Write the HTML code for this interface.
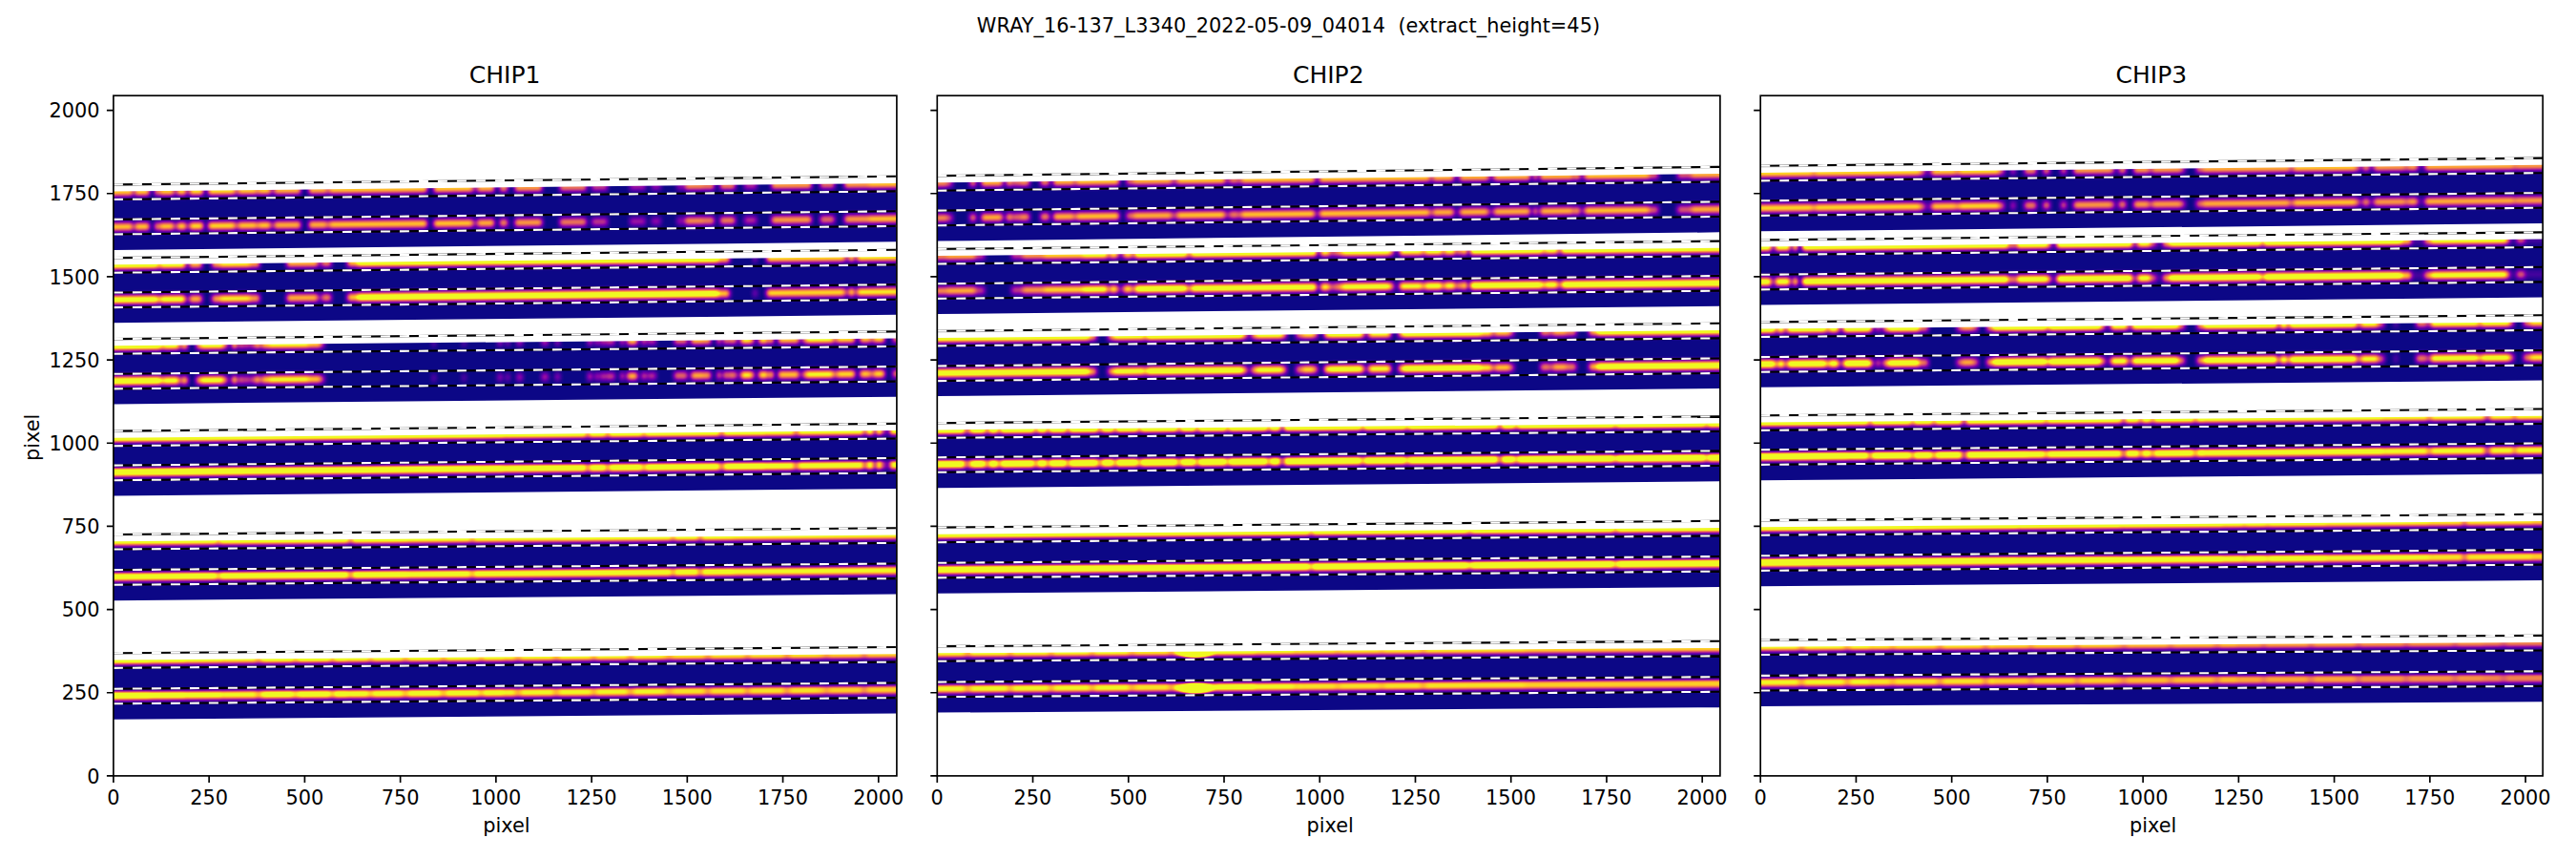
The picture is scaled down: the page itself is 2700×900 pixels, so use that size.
<!DOCTYPE html>
<html lang="en"><head><meta charset="utf-8"><title>WRAY_16-137_L3340_2022-05-09_04014</title>
<style>html,body{margin:0;padding:0;background:#fff;overflow:hidden}svg{display:block}</style>
</head><body>
<svg width="2700" height="900" viewBox="0 0 2700 900" style="display:block">
<defs><linearGradient id="gg" x1="0" y1="0" x2="0" y2="1"><stop offset="0.0000" stop-color="#030303"/><stop offset="0.0250" stop-color="#040404"/><stop offset="0.0500" stop-color="#060606"/><stop offset="0.0750" stop-color="#090909"/><stop offset="0.1000" stop-color="#0e0e0e"/><stop offset="0.1250" stop-color="#131313"/><stop offset="0.1500" stop-color="#1b1b1b"/><stop offset="0.1750" stop-color="#252525"/><stop offset="0.2000" stop-color="#313131"/><stop offset="0.2250" stop-color="#404040"/><stop offset="0.2500" stop-color="#515151"/><stop offset="0.2750" stop-color="#656565"/><stop offset="0.3000" stop-color="#7a7a7a"/><stop offset="0.3250" stop-color="#919191"/><stop offset="0.3500" stop-color="#a9a9a9"/><stop offset="0.3750" stop-color="#bfbfbf"/><stop offset="0.4000" stop-color="#d4d4d4"/><stop offset="0.4250" stop-color="#e6e6e6"/><stop offset="0.4500" stop-color="#f4f4f4"/><stop offset="0.4750" stop-color="#fcfcfc"/><stop offset="0.5000" stop-color="#ffffff"/><stop offset="0.5250" stop-color="#fcfcfc"/><stop offset="0.5500" stop-color="#f4f4f4"/><stop offset="0.5750" stop-color="#e6e6e6"/><stop offset="0.6000" stop-color="#d4d4d4"/><stop offset="0.6250" stop-color="#bfbfbf"/><stop offset="0.6500" stop-color="#a9a9a9"/><stop offset="0.6750" stop-color="#919191"/><stop offset="0.7000" stop-color="#7a7a7a"/><stop offset="0.7250" stop-color="#656565"/><stop offset="0.7500" stop-color="#515151"/><stop offset="0.7750" stop-color="#404040"/><stop offset="0.8000" stop-color="#313131"/><stop offset="0.8250" stop-color="#252525"/><stop offset="0.8500" stop-color="#1b1b1b"/><stop offset="0.8750" stop-color="#131313"/><stop offset="0.9000" stop-color="#0e0e0e"/><stop offset="0.9250" stop-color="#090909"/><stop offset="0.9500" stop-color="#060606"/><stop offset="0.9750" stop-color="#040404"/><stop offset="1.0000" stop-color="#030303"/></linearGradient>
<linearGradient id="ga" x1="0" y1="0" x2="0" y2="1"><stop offset="0.0000" stop-color="#000000"/><stop offset="0.0250" stop-color="#010101"/><stop offset="0.0500" stop-color="#010101"/><stop offset="0.0750" stop-color="#020202"/><stop offset="0.1000" stop-color="#050505"/><stop offset="0.1250" stop-color="#090909"/><stop offset="0.1500" stop-color="#101010"/><stop offset="0.1750" stop-color="#1a1a1a"/><stop offset="0.2000" stop-color="#292929"/><stop offset="0.2250" stop-color="#3e3e3e"/><stop offset="0.2500" stop-color="#595959"/><stop offset="0.2750" stop-color="#787878"/><stop offset="0.3000" stop-color="#9b9b9b"/><stop offset="0.3250" stop-color="#bdbdbd"/><stop offset="0.3500" stop-color="#dcdcdc"/><stop offset="0.3750" stop-color="#f2f2f2"/><stop offset="0.4000" stop-color="#fefefe"/><stop offset="0.4250" stop-color="#ffffff"/><stop offset="0.4500" stop-color="#ffffff"/><stop offset="0.4750" stop-color="#ffffff"/><stop offset="0.5000" stop-color="#ffffff"/><stop offset="0.5250" stop-color="#fbfbfb"/><stop offset="0.5500" stop-color="#f0f0f0"/><stop offset="0.5750" stop-color="#dfdfdf"/><stop offset="0.6000" stop-color="#c9c9c9"/><stop offset="0.6250" stop-color="#b0b0b0"/><stop offset="0.6500" stop-color="#959595"/><stop offset="0.6750" stop-color="#7b7b7b"/><stop offset="0.7000" stop-color="#626262"/><stop offset="0.7250" stop-color="#4d4d4d"/><stop offset="0.7500" stop-color="#3a3a3a"/><stop offset="0.7750" stop-color="#2a2a2a"/><stop offset="0.8000" stop-color="#1e1e1e"/><stop offset="0.8250" stop-color="#151515"/><stop offset="0.8500" stop-color="#0e0e0e"/><stop offset="0.8750" stop-color="#090909"/><stop offset="0.9000" stop-color="#060606"/><stop offset="0.9250" stop-color="#030303"/><stop offset="0.9500" stop-color="#020202"/><stop offset="0.9750" stop-color="#010101"/><stop offset="1.0000" stop-color="#010101"/></linearGradient>
<radialGradient id="rg"><stop offset="0" stop-color="#fff"/><stop offset="0.55" stop-color="#fff"/><stop offset="1" stop-color="#fff" stop-opacity="0"/></radialGradient>
<filter id="pl" filterUnits="userSpaceOnUse" x="-14" y="-54.0" width="849.0" height="92.2" color-interpolation-filters="sRGB"><feGaussianBlur stdDeviation="2.10 0"/><feComponentTransfer><feFuncR type="table" tableValues="0.0504 0.1060 0.1486 0.1862 0.2212 0.2546 0.2871 0.3189 0.3502 0.3872 0.4176 0.4477 0.4773 0.5065 0.5350 0.5627 0.5897 0.6209 0.6459 0.6698 0.6928 0.7149 0.7360 0.7563 0.7758 0.7982 0.8161 0.8334 0.8501 0.8661 0.8814 0.8961 0.9101 0.9233 0.9380 0.9492 0.9594 0.9685 0.9764 0.9830 0.9883 0.9920 0.9943 0.9944 0.9925 0.9886 0.9827 0.9744 0.9640 0.9517 0.9400 0.9400 0.9400 0.9400 0.9400 0.9400 0.9400 0.9400 0.9400 0.9400 0.9400 0.9400 0.9400 0.9400 0.9400 0.9400 0.9400 0.9400 0.9400 0.9400 0.9400 0.9400 0.9400 0.9400 0.9400 0.9400"/><feFuncG type="table" tableValues="0.0298 0.0243 0.0212 0.0188 0.0165 0.0139 0.0109 0.0076 0.0044 0.0014 0.0006 0.0021 0.0070 0.0163 0.0312 0.0515 0.0729 0.0989 0.1209 0.1430 0.1651 0.1873 0.2094 0.2316 0.2537 0.2802 0.3024 0.3246 0.3470 0.3697 0.3925 0.4157 0.4393 0.4633 0.4927 0.5178 0.5434 0.5697 0.5966 0.6241 0.6523 0.6812 0.7167 0.7470 0.7780 0.8096 0.8418 0.8746 0.9080 0.9417 0.9752 0.9752 0.9752 0.9752 0.9752 0.9752 0.9752 0.9752 0.9752 0.9752 0.9752 0.9752 0.9752 0.9752 0.9752 0.9752 0.9752 0.9752 0.9752 0.9752 0.9752 0.9752 0.9752 0.9752 0.9752 0.9752"/><feFuncB type="table" tableValues="0.5280 0.5514 0.5706 0.5872 0.6021 0.6154 0.6273 0.6376 0.6463 0.6542 0.6584 0.6602 0.6595 0.6562 0.6502 0.6415 0.6304 0.6143 0.5989 0.5822 0.5645 0.5463 0.5279 0.5095 0.4912 0.4695 0.4518 0.4344 0.4172 0.4001 0.3832 0.3664 0.3496 0.3328 0.3126 0.2957 0.2787 0.2617 0.2448 0.2279 0.2114 0.1953 0.1772 0.1638 0.1529 0.1454 0.1423 0.1441 0.1494 0.1529 0.1313 0.1313 0.1313 0.1313 0.1313 0.1313 0.1313 0.1313 0.1313 0.1313 0.1313 0.1313 0.1313 0.1313 0.1313 0.1313 0.1313 0.1313 0.1313 0.1313 0.1313 0.1313 0.1313 0.1313 0.1313 0.1313"/></feComponentTransfer></filter>
<clipPath id="band0"><rect x="0" y="-37.10" width="821.00" height="61.30"/></clipPath>
<clipPath id="band1"><rect x="0" y="-36.70" width="821.00" height="60.90"/></clipPath>
<clipPath id="band2"><rect x="0" y="-36.90" width="821.00" height="61.10"/></clipPath>
<clipPath id="band3"><rect x="0" y="-36.60" width="821.00" height="60.80"/></clipPath>
<clipPath id="band4"><rect x="0" y="-37.80" width="821.00" height="62.00"/></clipPath>
<clipPath id="band5"><rect x="0" y="-38.05" width="821.00" height="62.25"/></clipPath>
<clipPath id="ax0"><rect x="118.90" y="100.20" width="821.00" height="712.70"/></clipPath>
<clipPath id="ax1"><rect x="982.30" y="100.20" width="820.60" height="712.70"/></clipPath>
<clipPath id="ax2"><rect x="1845.20" y="100.20" width="820.00" height="712.70"/></clipPath></defs>
<rect width="2700" height="900" fill="#fff"/>
<g clip-path="url(#ax0)">
<g transform="translate(118.90 237.70) skewY(-0.6002)">
<g clip-path="url(#band0)"><g filter="url(#pl)">
<rect x="-14" y="-54.00" width="849.00" height="92.20" fill="#000"/>
<g id="t00" fill="url(#gg)">
<rect x="-12.0" y="-10" width="32.0" height="20" opacity="0.576"/>
<rect x="20.0" y="-10" width="2.5" height="20" opacity="0.094"/>
<rect x="22.5" y="-10" width="15.0" height="20" opacity="0.576"/>
<rect x="44.0" y="-10" width="2.5" height="20" opacity="0.723"/>
<rect x="48.0" y="-10" width="15.0" height="20" opacity="0.576"/>
<rect x="63.0" y="-10" width="4.0" height="20" opacity="0.194"/>
<rect x="67.0" y="-10" width="9.0" height="20" opacity="0.584"/>
<rect x="76.0" y="-10" width="4.0" height="20" opacity="0.139"/>
<rect x="80.0" y="-10" width="14.0" height="20" opacity="0.612"/>
<rect x="99.5" y="-10" width="28.0" height="20" opacity="0.612"/>
<rect x="127.5" y="-10" width="3.5" height="20" opacity="0.274"/>
<rect x="131.0" y="-10" width="19.0" height="20" opacity="0.576"/>
<rect x="150.0" y="-10" width="1.5" height="20" opacity="0.306"/>
<rect x="151.5" y="-10" width="13.0" height="20" opacity="0.576"/>
<rect x="164.5" y="-10" width="4.5" height="20" opacity="0.188"/>
<rect x="169.0" y="-10" width="27.0" height="20" opacity="0.540"/>
<rect x="205.0" y="-10" width="18.5" height="20" opacity="0.540"/>
<rect x="223.5" y="-10" width="3.0" height="20" opacity="0.334"/>
<rect x="226.5" y="-10" width="102.0" height="20" opacity="0.576"/>
<rect x="336.0" y="-10" width="40.5" height="20" opacity="0.576"/>
<rect x="376.5" y="-10" width="5.5" height="20" opacity="0.184"/>
<rect x="382.0" y="-10" width="17.0" height="20" opacity="0.540"/>
<rect x="405.0" y="-10" width="8.0" height="20" opacity="0.458"/>
<rect x="421.0" y="-10" width="28.0" height="20" opacity="0.504"/>
<rect x="468.0" y="-10" width="27.5" height="20" opacity="0.432"/>
<rect x="501.5" y="-10" width="16.0" height="20" opacity="0.288"/>
<rect x="541.5" y="-10" width="16.0" height="20" opacity="0.216"/>
<rect x="564.0" y="-10" width="9.5" height="20" opacity="0.184"/>
<rect x="591.0" y="-10" width="6.5" height="20" opacity="0.205"/>
<rect x="599.0" y="-10" width="19.0" height="20" opacity="0.468"/>
<rect x="618.0" y="-10" width="11.5" height="20" opacity="0.432"/>
<rect x="636.0" y="-10" width="15.5" height="20" opacity="0.432"/>
<rect x="661.5" y="-10" width="12.5" height="20" opacity="0.253"/>
<rect x="690.0" y="-10" width="41.5" height="20" opacity="0.504"/>
<rect x="741.0" y="-10" width="14.5" height="20" opacity="0.396"/>
<rect x="766.5" y="-10" width="25.5" height="20" opacity="0.504"/>
<rect x="792.0" y="-10" width="41.0" height="20" opacity="0.576"/>
</g>
<use href="#t00" y="-36.50"/>
</g></g>
<line x1="0" y1="-43.00" x2="821.00" y2="-44.90" stroke="#c8c8c8" stroke-width="0.8"/>
<line x1="0" y1="-44.30" x2="821.00" y2="-44.30" stroke="#000" stroke-width="2.1"/>
<line x1="0" y1="-44.30" x2="821.00" y2="-44.30" stroke="#fff" stroke-width="2.1" stroke-dasharray="10 10"/>
<line x1="0" y1="-28.70" x2="821.00" y2="-28.70" stroke="#000" stroke-width="2.1"/>
<line x1="0" y1="-28.70" x2="821.00" y2="-28.70" stroke="#fff" stroke-width="2.1" stroke-dasharray="10 10"/>
<line x1="0" y1="-7.80" x2="821.00" y2="-7.80" stroke="#000" stroke-width="2.1"/>
<line x1="0" y1="-7.80" x2="821.00" y2="-7.80" stroke="#fff" stroke-width="2.1" stroke-dasharray="10 10"/>
<line x1="0" y1="7.80" x2="821.00" y2="7.80" stroke="#000" stroke-width="2.1"/>
<line x1="0" y1="7.80" x2="821.00" y2="7.80" stroke="#fff" stroke-width="2.1" stroke-dasharray="10 10"/>
</g>
<g transform="translate(118.90 314.05) skewY(-0.5862)">
<g clip-path="url(#band1)"><g filter="url(#pl)">
<rect x="-14" y="-54.00" width="849.00" height="92.20" fill="#000"/>
<g id="t01" fill="url(#gg)">
<rect x="-12.0" y="-10" width="58.5" height="20" opacity="0.756"/>
<rect x="46.5" y="-10" width="3.0" height="20" opacity="0.514"/>
<rect x="49.5" y="-10" width="25.5" height="20" opacity="0.720"/>
<rect x="75.0" y="-10" width="5.0" height="20" opacity="0.117"/>
<rect x="80.0" y="-10" width="12.5" height="20" opacity="0.541"/>
<rect x="103.5" y="-10" width="8.0" height="20" opacity="0.504"/>
<rect x="111.5" y="-10" width="32.0" height="20" opacity="0.648"/>
<rect x="143.5" y="-10" width="9.5" height="20" opacity="0.504"/>
<rect x="182.0" y="-10" width="32.0" height="20" opacity="0.540"/>
<rect x="214.0" y="-10" width="4.5" height="20" opacity="0.130"/>
<rect x="218.5" y="-10" width="9.5" height="20" opacity="0.437"/>
<rect x="245.5" y="-10" width="10.0" height="20" opacity="0.576"/>
<rect x="255.5" y="-10" width="378.5" height="20" opacity="0.828"/>
<rect x="634.0" y="-10" width="11.5" height="20" opacity="0.576"/>
<rect x="671.0" y="-10" width="3.0" height="20" opacity="0.206"/>
<rect x="685.0" y="-10" width="81.5" height="20" opacity="0.612"/>
<rect x="766.5" y="-10" width="5.0" height="20" opacity="0.247"/>
<rect x="771.5" y="-10" width="4.5" height="20" opacity="0.676"/>
<rect x="776.0" y="-10" width="3.5" height="20" opacity="0.153"/>
<rect x="779.5" y="-10" width="53.5" height="20" opacity="0.648"/>
</g>
<use href="#t01" y="-36.40"/>
</g></g>
<line x1="0" y1="-42.60" x2="821.00" y2="-44.50" stroke="#c8c8c8" stroke-width="0.8"/>
<line x1="0" y1="-43.90" x2="821.00" y2="-43.90" stroke="#000" stroke-width="2.1"/>
<line x1="0" y1="-43.90" x2="821.00" y2="-43.90" stroke="#fff" stroke-width="2.1" stroke-dasharray="10 10"/>
<line x1="0" y1="-28.30" x2="821.00" y2="-28.30" stroke="#000" stroke-width="2.1"/>
<line x1="0" y1="-28.30" x2="821.00" y2="-28.30" stroke="#fff" stroke-width="2.1" stroke-dasharray="10 10"/>
<line x1="0" y1="-7.50" x2="821.00" y2="-7.50" stroke="#000" stroke-width="2.1"/>
<line x1="0" y1="-7.50" x2="821.00" y2="-7.50" stroke="#fff" stroke-width="2.1" stroke-dasharray="10 10"/>
<line x1="0" y1="8.10" x2="821.00" y2="8.10" stroke="#000" stroke-width="2.1"/>
<line x1="0" y1="8.10" x2="821.00" y2="8.10" stroke="#fff" stroke-width="2.1" stroke-dasharray="10 10"/>
</g>
<g transform="translate(118.90 399.20) skewY(-0.5408)">
<g clip-path="url(#band2)"><g filter="url(#pl)">
<rect x="-14" y="-54.00" width="849.00" height="92.20" fill="#000"/>
<g id="t02" fill="url(#gg)">
<rect x="-12.0" y="-10" width="61.5" height="20" opacity="0.828"/>
<rect x="49.5" y="-10" width="3.0" height="20" opacity="0.583"/>
<rect x="52.5" y="-10" width="16.0" height="20" opacity="0.720"/>
<rect x="68.5" y="-10" width="3.5" height="20" opacity="0.238"/>
<rect x="72.0" y="-10" width="5.5" height="20" opacity="0.582"/>
<rect x="87.0" y="-10" width="4.5" height="20" opacity="0.504"/>
<rect x="91.5" y="-10" width="23.5" height="20" opacity="0.720"/>
<rect x="115.0" y="-10" width="4.0" height="20" opacity="0.432"/>
<rect x="119.0" y="-10" width="6.0" height="20" opacity="0.092"/>
<rect x="125.0" y="-10" width="4.0" height="20" opacity="0.653"/>
<rect x="129.0" y="-10" width="3.5" height="20" opacity="0.094"/>
<rect x="132.5" y="-10" width="3.0" height="20" opacity="0.559"/>
<rect x="135.5" y="-10" width="2.5" height="20" opacity="0.039"/>
<rect x="138.0" y="-10" width="3.0" height="20" opacity="0.490"/>
<rect x="141.0" y="-10" width="2.5" height="20" opacity="0.039"/>
<rect x="143.5" y="-10" width="2.5" height="20" opacity="0.449"/>
<rect x="146.0" y="-10" width="2.5" height="20" opacity="0.199"/>
<rect x="148.5" y="-10" width="4.5" height="20" opacity="0.597"/>
<rect x="153.0" y="-10" width="2.5" height="20" opacity="0.219"/>
<rect x="155.5" y="-10" width="7.0" height="20" opacity="0.576"/>
<rect x="162.5" y="-10" width="41.5" height="20" opacity="0.684"/>
<rect x="204.0" y="-10" width="13.0" height="20" opacity="0.576"/>
<rect x="217.0" y="-10" width="4.0" height="20" opacity="0.288"/>
<rect x="334.0" y="-10" width="3.5" height="20" opacity="0.121"/>
<rect x="365.5" y="-10" width="4.0" height="20" opacity="0.109"/>
<rect x="403.0" y="-10" width="4.5" height="20" opacity="0.201"/>
<rect x="411.5" y="-10" width="3.5" height="20" opacity="0.181"/>
<rect x="423.0" y="-10" width="5.5" height="20" opacity="0.222"/>
<rect x="449.0" y="-10" width="6.5" height="20" opacity="0.246"/>
<rect x="463.5" y="-10" width="4.0" height="20" opacity="0.218"/>
<rect x="497.5" y="-10" width="4.0" height="20" opacity="0.328"/>
<rect x="505.5" y="-10" width="2.5" height="20" opacity="0.402"/>
<rect x="510.5" y="-10" width="4.0" height="20" opacity="0.328"/>
<rect x="515.5" y="-10" width="10.0" height="20" opacity="0.293"/>
<rect x="532.0" y="-10" width="2.5" height="20" opacity="0.482"/>
<rect x="538.5" y="-10" width="10.5" height="20" opacity="0.547"/>
<rect x="553.5" y="-10" width="5.0" height="20" opacity="0.329"/>
<rect x="560.0" y="-10" width="8.5" height="20" opacity="0.263"/>
<rect x="588.0" y="-10" width="13.5" height="20" opacity="0.397"/>
<rect x="605.5" y="-10" width="12.5" height="20" opacity="0.540"/>
<rect x="618.0" y="-10" width="8.0" height="20" opacity="0.504"/>
<rect x="633.5" y="-10" width="2.5" height="20" opacity="0.642"/>
<rect x="639.5" y="-10" width="4.0" height="20" opacity="0.492"/>
<rect x="644.5" y="-10" width="5.5" height="20" opacity="0.449"/>
<rect x="650.0" y="-10" width="4.0" height="20" opacity="0.360"/>
<rect x="657.5" y="-10" width="12.0" height="20" opacity="0.650"/>
<rect x="669.5" y="-10" width="3.0" height="20" opacity="0.288"/>
<rect x="676.5" y="-10" width="9.5" height="20" opacity="0.627"/>
<rect x="687.5" y="-10" width="4.0" height="20" opacity="0.655"/>
<rect x="697.0" y="-10" width="21.5" height="20" opacity="0.576"/>
<rect x="722.0" y="-10" width="1.5" height="20" opacity="0.720"/>
<rect x="725.0" y="-10" width="29.0" height="20" opacity="0.684"/>
<rect x="754.0" y="-10" width="4.5" height="20" opacity="0.361"/>
<rect x="758.5" y="-10" width="18.5" height="20" opacity="0.612"/>
<rect x="782.5" y="-10" width="11.0" height="20" opacity="0.577"/>
<rect x="793.5" y="-10" width="3.5" height="20" opacity="0.334"/>
<rect x="797.0" y="-10" width="11.0" height="20" opacity="0.614"/>
<rect x="817.0" y="-10" width="16.0" height="20" opacity="0.432"/>
</g>
<use href="#t02" y="-36.70"/>
</g></g>
<line x1="0" y1="-42.80" x2="821.00" y2="-44.70" stroke="#c8c8c8" stroke-width="0.8"/>
<line x1="0" y1="-44.10" x2="821.00" y2="-44.10" stroke="#000" stroke-width="2.1"/>
<line x1="0" y1="-44.10" x2="821.00" y2="-44.10" stroke="#fff" stroke-width="2.1" stroke-dasharray="10 10"/>
<line x1="0" y1="-28.50" x2="821.00" y2="-28.50" stroke="#000" stroke-width="2.1"/>
<line x1="0" y1="-28.50" x2="821.00" y2="-28.50" stroke="#fff" stroke-width="2.1" stroke-dasharray="10 10"/>
<line x1="0" y1="-7.40" x2="821.00" y2="-7.40" stroke="#000" stroke-width="2.1"/>
<line x1="0" y1="-7.40" x2="821.00" y2="-7.40" stroke="#fff" stroke-width="2.1" stroke-dasharray="10 10"/>
<line x1="0" y1="8.20" x2="821.00" y2="8.20" stroke="#000" stroke-width="2.1"/>
<line x1="0" y1="8.20" x2="821.00" y2="8.20" stroke="#fff" stroke-width="2.1" stroke-dasharray="10 10"/>
</g>
<g transform="translate(118.90 495.40) skewY(-0.5374)">
<g clip-path="url(#band3)"><g filter="url(#pl)">
<rect x="-14" y="-54.00" width="849.00" height="92.20" fill="#000"/>
<g id="t03" fill="url(#ga)">
<rect x="-12.0" y="-10" width="149.0" height="20" opacity="0.800"/>
<rect x="137.0" y="-10" width="273.5" height="20" opacity="0.767"/>
<rect x="410.5" y="-10" width="85.0" height="20" opacity="0.733"/>
<rect x="495.5" y="-10" width="3.5" height="20" opacity="0.397"/>
<rect x="499.0" y="-10" width="17.5" height="20" opacity="0.733"/>
<rect x="516.5" y="-10" width="3.0" height="20" opacity="0.416"/>
<rect x="519.5" y="-10" width="35.0" height="20" opacity="0.733"/>
<rect x="554.5" y="-10" width="3.5" height="20" opacity="0.509"/>
<rect x="558.0" y="-10" width="77.5" height="20" opacity="0.733"/>
<rect x="635.5" y="-10" width="4.0" height="20" opacity="0.379"/>
<rect x="639.5" y="-10" width="45.0" height="20" opacity="0.733"/>
<rect x="684.5" y="-10" width="29.0" height="20" opacity="0.700"/>
<rect x="713.5" y="-10" width="4.0" height="20" opacity="0.397"/>
<rect x="717.5" y="-10" width="69.0" height="20" opacity="0.700"/>
<rect x="786.5" y="-10" width="2.5" height="20" opacity="0.105"/>
<rect x="789.0" y="-10" width="8.0" height="20" opacity="0.716"/>
<rect x="797.0" y="-10" width="3.0" height="20" opacity="0.000"/>
<rect x="800.0" y="-10" width="5.0" height="20" opacity="0.802"/>
<rect x="805.0" y="-10" width="2.5" height="20" opacity="0.000"/>
<rect x="807.5" y="-10" width="1.0" height="20" opacity="1.000"/>
<rect x="808.5" y="-10" width="5.5" height="20" opacity="0.041"/>
<rect x="814.0" y="-10" width="19.0" height="20" opacity="0.700"/>
</g>
<use href="#t03" y="-36.00"/>
</g></g>
<line x1="0" y1="-42.50" x2="821.00" y2="-44.40" stroke="#c8c8c8" stroke-width="0.8"/>
<line x1="0" y1="-43.80" x2="821.00" y2="-43.80" stroke="#000" stroke-width="2.1"/>
<line x1="0" y1="-43.80" x2="821.00" y2="-43.80" stroke="#fff" stroke-width="2.1" stroke-dasharray="10 10"/>
<line x1="0" y1="-28.20" x2="821.00" y2="-28.20" stroke="#000" stroke-width="2.1"/>
<line x1="0" y1="-28.20" x2="821.00" y2="-28.20" stroke="#fff" stroke-width="2.1" stroke-dasharray="10 10"/>
<line x1="0" y1="-7.80" x2="821.00" y2="-7.80" stroke="#000" stroke-width="2.1"/>
<line x1="0" y1="-7.80" x2="821.00" y2="-7.80" stroke="#fff" stroke-width="2.1" stroke-dasharray="10 10"/>
<line x1="0" y1="7.80" x2="821.00" y2="7.80" stroke="#000" stroke-width="2.1"/>
<line x1="0" y1="7.80" x2="821.00" y2="7.80" stroke="#fff" stroke-width="2.1" stroke-dasharray="10 10"/>
</g>
<g transform="translate(118.90 604.95) skewY(-0.4641)">
<g clip-path="url(#band4)"><g filter="url(#pl)">
<rect x="-14" y="-54.00" width="849.00" height="92.20" fill="#000"/>
<g id="t04" fill="url(#ga)">
<rect x="-12.0" y="-10" width="120.0" height="20" opacity="0.733"/>
<rect x="108.0" y="-10" width="4.0" height="20" opacity="0.531"/>
<rect x="112.0" y="-10" width="134.5" height="20" opacity="0.733"/>
<rect x="246.5" y="-10" width="4.0" height="20" opacity="0.430"/>
<rect x="250.5" y="-10" width="57.5" height="20" opacity="0.733"/>
<rect x="308.0" y="-10" width="66.5" height="20" opacity="0.700"/>
<rect x="374.5" y="-10" width="3.0" height="20" opacity="0.510"/>
<rect x="377.5" y="-10" width="207.5" height="20" opacity="0.700"/>
<rect x="585.0" y="-10" width="3.0" height="20" opacity="0.446"/>
<rect x="588.0" y="-10" width="25.5" height="20" opacity="0.700"/>
<rect x="613.5" y="-10" width="3.0" height="20" opacity="0.383"/>
<rect x="616.5" y="-10" width="33.5" height="20" opacity="0.700"/>
<rect x="650.0" y="-10" width="183.0" height="20" opacity="0.667"/>
</g>
<use href="#t04" y="-37.20"/>
</g></g>
<line x1="0" y1="-43.70" x2="821.00" y2="-45.60" stroke="#c8c8c8" stroke-width="0.8"/>
<line x1="0" y1="-45.00" x2="821.00" y2="-45.00" stroke="#000" stroke-width="2.1"/>
<line x1="0" y1="-45.00" x2="821.00" y2="-45.00" stroke="#fff" stroke-width="2.1" stroke-dasharray="10 10"/>
<line x1="0" y1="-29.40" x2="821.00" y2="-29.40" stroke="#000" stroke-width="2.1"/>
<line x1="0" y1="-29.40" x2="821.00" y2="-29.40" stroke="#fff" stroke-width="2.1" stroke-dasharray="10 10"/>
<line x1="0" y1="-7.80" x2="821.00" y2="-7.80" stroke="#000" stroke-width="2.1"/>
<line x1="0" y1="-7.80" x2="821.00" y2="-7.80" stroke="#fff" stroke-width="2.1" stroke-dasharray="10 10"/>
<line x1="0" y1="7.80" x2="821.00" y2="7.80" stroke="#000" stroke-width="2.1"/>
<line x1="0" y1="7.80" x2="821.00" y2="7.80" stroke="#fff" stroke-width="2.1" stroke-dasharray="10 10"/>
</g>
<g transform="translate(118.90 729.50) skewY(-0.4327)">
<g clip-path="url(#band5)"><g filter="url(#pl)">
<rect x="-14" y="-54.00" width="849.00" height="92.20" fill="#000"/>
<g id="t05" fill="url(#ga)">
<rect x="-12.0" y="-10" width="50.0" height="20" opacity="0.800"/>
<rect x="38.0" y="-10" width="38.5" height="20" opacity="0.733"/>
<rect x="76.5" y="-10" width="38.0" height="20" opacity="0.700"/>
<rect x="114.5" y="-10" width="36.0" height="20" opacity="0.667"/>
<rect x="150.5" y="-10" width="2.5" height="20" opacity="0.485"/>
<rect x="153.0" y="-10" width="2.5" height="20" opacity="0.633"/>
<rect x="155.5" y="-10" width="33.0" height="20" opacity="0.733"/>
<rect x="188.5" y="-10" width="5.5" height="20" opacity="0.610"/>
<rect x="194.0" y="-10" width="33.0" height="20" opacity="0.733"/>
<rect x="227.0" y="-10" width="5.0" height="20" opacity="0.559"/>
<rect x="232.0" y="-10" width="14.5" height="20" opacity="0.733"/>
<rect x="246.5" y="-10" width="20.5" height="20" opacity="0.700"/>
<rect x="267.0" y="-10" width="5.0" height="20" opacity="0.569"/>
<rect x="272.0" y="-10" width="31.5" height="20" opacity="0.700"/>
<rect x="303.5" y="-10" width="5.0" height="20" opacity="0.569"/>
<rect x="308.5" y="-10" width="35.0" height="20" opacity="0.700"/>
<rect x="343.5" y="-10" width="5.0" height="20" opacity="0.569"/>
<rect x="348.5" y="-10" width="34.5" height="20" opacity="0.700"/>
<rect x="383.0" y="-10" width="5.0" height="20" opacity="0.569"/>
<rect x="388.0" y="-10" width="22.5" height="20" opacity="0.700"/>
<rect x="410.5" y="-10" width="11.0" height="20" opacity="0.667"/>
<rect x="421.5" y="-10" width="5.0" height="20" opacity="0.536"/>
<rect x="426.5" y="-10" width="34.5" height="20" opacity="0.667"/>
<rect x="461.0" y="-10" width="5.5" height="20" opacity="0.543"/>
<rect x="466.5" y="-10" width="34.5" height="20" opacity="0.667"/>
<rect x="501.0" y="-10" width="5.0" height="20" opacity="0.536"/>
<rect x="506.0" y="-10" width="33.5" height="20" opacity="0.667"/>
<rect x="539.5" y="-10" width="5.0" height="20" opacity="0.536"/>
<rect x="544.5" y="-10" width="30.5" height="20" opacity="0.667"/>
<rect x="575.0" y="-10" width="5.5" height="20" opacity="0.633"/>
<rect x="580.5" y="-10" width="5.5" height="20" opacity="0.551"/>
<rect x="586.0" y="-10" width="34.5" height="20" opacity="0.633"/>
<rect x="620.5" y="-10" width="5.0" height="20" opacity="0.503"/>
<rect x="625.5" y="-10" width="36.5" height="20" opacity="0.633"/>
<rect x="662.0" y="-10" width="5.0" height="20" opacity="0.503"/>
<rect x="667.0" y="-10" width="36.5" height="20" opacity="0.633"/>
<rect x="703.5" y="-10" width="5.0" height="20" opacity="0.503"/>
<rect x="708.5" y="-10" width="30.5" height="20" opacity="0.633"/>
<rect x="739.0" y="-10" width="6.0" height="20" opacity="0.600"/>
<rect x="745.0" y="-10" width="5.0" height="20" opacity="0.513"/>
<rect x="750.0" y="-10" width="34.5" height="20" opacity="0.600"/>
<rect x="784.5" y="-10" width="5.5" height="20" opacity="0.476"/>
<rect x="790.0" y="-10" width="43.0" height="20" opacity="0.600"/>
</g>
<use href="#t05" y="-37.45"/>
</g></g>
<line x1="0" y1="-43.95" x2="821.00" y2="-45.85" stroke="#c8c8c8" stroke-width="0.8"/>
<line x1="0" y1="-45.25" x2="821.00" y2="-45.25" stroke="#000" stroke-width="2.1"/>
<line x1="0" y1="-45.25" x2="821.00" y2="-45.25" stroke="#fff" stroke-width="2.1" stroke-dasharray="10 10"/>
<line x1="0" y1="-29.65" x2="821.00" y2="-29.65" stroke="#000" stroke-width="2.1"/>
<line x1="0" y1="-29.65" x2="821.00" y2="-29.65" stroke="#fff" stroke-width="2.1" stroke-dasharray="10 10"/>
<line x1="0" y1="-7.80" x2="821.00" y2="-7.80" stroke="#000" stroke-width="2.1"/>
<line x1="0" y1="-7.80" x2="821.00" y2="-7.80" stroke="#fff" stroke-width="2.1" stroke-dasharray="10 10"/>
<line x1="0" y1="7.80" x2="821.00" y2="7.80" stroke="#000" stroke-width="2.1"/>
<line x1="0" y1="7.80" x2="821.00" y2="7.80" stroke="#fff" stroke-width="2.1" stroke-dasharray="10 10"/>
</g>
</g>
<rect x="118.90" y="100.20" width="821.00" height="712.70" fill="none" stroke="#000" stroke-width="1.67"/>
<path d="M118.90 812.90v7.0M118.90 812.90h-7.0M219.14 812.90v7.0M118.90 725.74h-7.0M319.38 812.90v7.0M118.90 638.57h-7.0M419.61 812.90v7.0M118.90 551.41h-7.0M519.85 812.90v7.0M118.90 464.25h-7.0M620.09 812.90v7.0M118.90 377.09h-7.0M720.32 812.90v7.0M118.90 289.92h-7.0M820.56 812.90v7.0M118.90 202.76h-7.0M920.80 812.90v7.0M118.90 115.60h-7.0" stroke="#000" stroke-width="1.67" fill="none"/>
<g font-family='"DejaVu Sans", "Liberation Sans", sans-serif' font-size="20.83" fill="#000" text-anchor="middle">
<text x="118.80" y="843.4">0</text>
<text x="219.04" y="843.4">250</text>
<text x="319.27" y="843.4">500</text>
<text x="419.51" y="843.4">750</text>
<text x="519.75" y="843.4">1000</text>
<text x="619.99" y="843.4">1250</text>
<text x="720.22" y="843.4">1500</text>
<text x="820.46" y="843.4">1750</text>
<text x="920.70" y="843.4">2000</text>
<text x="530.90" y="872.0">pixel</text>
</g>
<text x="529.10" y="86.9" font-family='"DejaVu Sans", "Liberation Sans", sans-serif' font-size="25" fill="#000" text-anchor="middle">CHIP1</text>
<g clip-path="url(#ax1)">
<g transform="translate(982.30 228.40) skewY(-0.6458)">
<g clip-path="url(#band0)"><g filter="url(#pl)">
<rect x="-14" y="-54.00" width="849.00" height="92.20" fill="#000"/>
<g id="t10" fill="url(#gg)">
<rect x="-12.0" y="-10" width="23.0" height="20" opacity="0.468"/>
<rect x="11.0" y="-10" width="5.0" height="20" opacity="0.288"/>
<rect x="34.5" y="-10" width="6.0" height="20" opacity="0.425"/>
<rect x="46.5" y="-10" width="22.0" height="20" opacity="0.540"/>
<rect x="72.5" y="-10" width="6.5" height="20" opacity="0.492"/>
<rect x="80.0" y="-10" width="5.5" height="20" opacity="0.432"/>
<rect x="86.0" y="-10" width="10.5" height="20" opacity="0.468"/>
<rect x="108.5" y="-10" width="9.0" height="20" opacity="0.446"/>
<rect x="122.0" y="-10" width="21.5" height="20" opacity="0.540"/>
<rect x="143.5" y="-10" width="2.5" height="20" opacity="0.299"/>
<rect x="146.0" y="-10" width="44.5" height="20" opacity="0.576"/>
<rect x="198.5" y="-10" width="7.5" height="20" opacity="0.396"/>
<rect x="206.0" y="-10" width="39.5" height="20" opacity="0.540"/>
<rect x="245.5" y="-10" width="6.0" height="20" opacity="0.285"/>
<rect x="251.5" y="-10" width="50.0" height="20" opacity="0.576"/>
<rect x="301.5" y="-10" width="5.0" height="20" opacity="0.197"/>
<rect x="306.5" y="-10" width="8.5" height="20" opacity="0.435"/>
<rect x="315.0" y="-10" width="4.0" height="20" opacity="0.323"/>
<rect x="319.0" y="-10" width="76.5" height="20" opacity="0.576"/>
<rect x="395.5" y="-10" width="5.5" height="20" opacity="0.131"/>
<rect x="401.0" y="-10" width="115.0" height="20" opacity="0.576"/>
<rect x="516.0" y="-10" width="4.0" height="20" opacity="0.267"/>
<rect x="520.0" y="-10" width="21.0" height="20" opacity="0.540"/>
<rect x="541.0" y="-10" width="7.0" height="20" opacity="0.102"/>
<rect x="548.0" y="-10" width="29.5" height="20" opacity="0.540"/>
<rect x="577.5" y="-10" width="6.5" height="20" opacity="0.171"/>
<rect x="584.0" y="-10" width="37.5" height="20" opacity="0.540"/>
<rect x="625.5" y="-10" width="3.0" height="20" opacity="0.617"/>
<rect x="632.0" y="-10" width="34.0" height="20" opacity="0.540"/>
<rect x="666.0" y="-10" width="2.5" height="20" opacity="0.343"/>
<rect x="668.5" y="-10" width="4.5" height="20" opacity="0.533"/>
<rect x="673.0" y="-10" width="6.0" height="20" opacity="0.164"/>
<rect x="679.0" y="-10" width="67.0" height="20" opacity="0.576"/>
<rect x="746.0" y="-10" width="9.5" height="20" opacity="0.360"/>
<rect x="776.0" y="-10" width="14.5" height="20" opacity="0.360"/>
<rect x="790.5" y="-10" width="42.5" height="20" opacity="0.540"/>
</g>
<use href="#t10" y="-36.50"/>
</g></g>
<line x1="0" y1="-43.00" x2="821.00" y2="-44.90" stroke="#c8c8c8" stroke-width="0.8"/>
<line x1="0" y1="-44.30" x2="821.00" y2="-44.30" stroke="#000" stroke-width="2.1"/>
<line x1="0" y1="-44.30" x2="821.00" y2="-44.30" stroke="#fff" stroke-width="2.1" stroke-dasharray="10 10"/>
<line x1="0" y1="-28.70" x2="821.00" y2="-28.70" stroke="#000" stroke-width="2.1"/>
<line x1="0" y1="-28.70" x2="821.00" y2="-28.70" stroke="#fff" stroke-width="2.1" stroke-dasharray="10 10"/>
<line x1="0" y1="-7.80" x2="821.00" y2="-7.80" stroke="#000" stroke-width="2.1"/>
<line x1="0" y1="-7.80" x2="821.00" y2="-7.80" stroke="#fff" stroke-width="2.1" stroke-dasharray="10 10"/>
<line x1="0" y1="7.80" x2="821.00" y2="7.80" stroke="#000" stroke-width="2.1"/>
<line x1="0" y1="7.80" x2="821.00" y2="7.80" stroke="#fff" stroke-width="2.1" stroke-dasharray="10 10"/>
</g>
<g transform="translate(982.30 304.80) skewY(-0.5760)">
<g clip-path="url(#band1)"><g filter="url(#pl)">
<rect x="-14" y="-54.00" width="849.00" height="92.20" fill="#000"/>
<g id="t11" fill="url(#gg)">
<rect x="-12.0" y="-10" width="21.5" height="20" opacity="0.468"/>
<rect x="9.5" y="-10" width="30.5" height="20" opacity="0.540"/>
<rect x="40.0" y="-10" width="9.5" height="20" opacity="0.288"/>
<rect x="78.0" y="-10" width="11.5" height="20" opacity="0.288"/>
<rect x="89.5" y="-10" width="22.0" height="20" opacity="0.504"/>
<rect x="111.5" y="-10" width="41.5" height="20" opacity="0.612"/>
<rect x="153.0" y="-10" width="25.5" height="20" opacity="0.720"/>
<rect x="178.5" y="-10" width="2.5" height="20" opacity="0.210"/>
<rect x="181.0" y="-10" width="8.0" height="20" opacity="0.623"/>
<rect x="189.0" y="-10" width="6.5" height="20" opacity="0.161"/>
<rect x="195.5" y="-10" width="8.5" height="20" opacity="0.620"/>
<rect x="204.0" y="-10" width="3.5" height="20" opacity="0.310"/>
<rect x="207.5" y="-10" width="54.0" height="20" opacity="0.792"/>
<rect x="261.5" y="-10" width="5.0" height="20" opacity="0.427"/>
<rect x="266.5" y="-10" width="131.0" height="20" opacity="0.756"/>
<rect x="397.5" y="-10" width="4.5" height="20" opacity="0.045"/>
<rect x="402.0" y="-10" width="9.0" height="20" opacity="0.658"/>
<rect x="411.0" y="-10" width="4.5" height="20" opacity="0.331"/>
<rect x="415.5" y="-10" width="5.0" height="20" opacity="0.432"/>
<rect x="420.5" y="-10" width="4.5" height="20" opacity="0.540"/>
<rect x="425.0" y="-10" width="49.5" height="20" opacity="0.720"/>
<rect x="474.5" y="-10" width="3.5" height="20" opacity="0.504"/>
<rect x="478.0" y="-10" width="7.0" height="20" opacity="0.066"/>
<rect x="485.0" y="-10" width="23.0" height="20" opacity="0.684"/>
<rect x="508.0" y="-10" width="3.5" height="20" opacity="0.442"/>
<rect x="511.5" y="-10" width="17.5" height="20" opacity="0.720"/>
<rect x="529.0" y="-10" width="3.0" height="20" opacity="0.341"/>
<rect x="532.0" y="-10" width="11.0" height="20" opacity="0.686"/>
<rect x="543.0" y="-10" width="3.5" height="20" opacity="0.213"/>
<rect x="546.5" y="-10" width="2.5" height="20" opacity="0.842"/>
<rect x="549.0" y="-10" width="2.0" height="20" opacity="0.000"/>
<rect x="551.0" y="-10" width="3.5" height="20" opacity="0.868"/>
<rect x="554.5" y="-10" width="4.5" height="20" opacity="0.095"/>
<rect x="559.0" y="-10" width="75.0" height="20" opacity="0.792"/>
<rect x="634.0" y="-10" width="3.5" height="20" opacity="0.539"/>
<rect x="637.5" y="-10" width="12.5" height="20" opacity="0.720"/>
<rect x="650.0" y="-10" width="5.0" height="20" opacity="0.344"/>
<rect x="655.0" y="-10" width="178.0" height="20" opacity="0.800"/>
</g>
<use href="#t11" y="-36.40"/>
</g></g>
<line x1="0" y1="-42.60" x2="821.00" y2="-44.50" stroke="#c8c8c8" stroke-width="0.8"/>
<line x1="0" y1="-43.90" x2="821.00" y2="-43.90" stroke="#000" stroke-width="2.1"/>
<line x1="0" y1="-43.90" x2="821.00" y2="-43.90" stroke="#fff" stroke-width="2.1" stroke-dasharray="10 10"/>
<line x1="0" y1="-28.30" x2="821.00" y2="-28.30" stroke="#000" stroke-width="2.1"/>
<line x1="0" y1="-28.30" x2="821.00" y2="-28.30" stroke="#fff" stroke-width="2.1" stroke-dasharray="10 10"/>
<line x1="0" y1="-7.50" x2="821.00" y2="-7.50" stroke="#000" stroke-width="2.1"/>
<line x1="0" y1="-7.50" x2="821.00" y2="-7.50" stroke="#fff" stroke-width="2.1" stroke-dasharray="10 10"/>
<line x1="0" y1="8.10" x2="821.00" y2="8.10" stroke="#000" stroke-width="2.1"/>
<line x1="0" y1="8.10" x2="821.00" y2="8.10" stroke="#fff" stroke-width="2.1" stroke-dasharray="10 10"/>
</g>
<g transform="translate(982.30 390.90) skewY(-0.5620)">
<g clip-path="url(#band2)"><g filter="url(#pl)">
<rect x="-14" y="-54.00" width="849.00" height="92.20" fill="#000"/>
<g id="t12" fill="url(#gg)">
<rect x="-12.0" y="-10" width="171.5" height="20" opacity="0.800"/>
<rect x="159.5" y="-10" width="7.0" height="20" opacity="0.504"/>
<rect x="179.5" y="-10" width="5.5" height="20" opacity="0.504"/>
<rect x="185.0" y="-10" width="32.0" height="20" opacity="0.720"/>
<rect x="217.0" y="-10" width="3.0" height="20" opacity="0.514"/>
<rect x="220.0" y="-10" width="100.5" height="20" opacity="0.800"/>
<rect x="320.5" y="-10" width="4.0" height="20" opacity="0.504"/>
<rect x="324.5" y="-10" width="5.5" height="20" opacity="0.104"/>
<rect x="330.0" y="-10" width="5.0" height="20" opacity="0.540"/>
<rect x="335.0" y="-10" width="27.0" height="20" opacity="0.720"/>
<rect x="362.0" y="-10" width="4.0" height="20" opacity="0.432"/>
<rect x="376.5" y="-10" width="6.5" height="20" opacity="0.432"/>
<rect x="383.0" y="-10" width="12.5" height="20" opacity="0.613"/>
<rect x="395.5" y="-10" width="3.5" height="20" opacity="0.360"/>
<rect x="406.0" y="-10" width="5.0" height="20" opacity="0.648"/>
<rect x="411.0" y="-10" width="34.0" height="20" opacity="0.756"/>
<rect x="445.0" y="-10" width="2.5" height="20" opacity="0.504"/>
<rect x="447.5" y="-10" width="5.0" height="20" opacity="0.128"/>
<rect x="452.5" y="-10" width="21.5" height="20" opacity="0.684"/>
<rect x="474.0" y="-10" width="2.0" height="20" opacity="0.432"/>
<rect x="483.5" y="-10" width="4.0" height="20" opacity="0.504"/>
<rect x="487.5" y="-10" width="83.0" height="20" opacity="0.792"/>
<rect x="570.5" y="-10" width="11.0" height="20" opacity="0.648"/>
<rect x="581.5" y="-10" width="3.0" height="20" opacity="0.302"/>
<rect x="584.5" y="-10" width="16.0" height="20" opacity="0.576"/>
<rect x="600.5" y="-10" width="4.0" height="20" opacity="0.324"/>
<rect x="632.5" y="-10" width="9.5" height="20" opacity="0.434"/>
<rect x="642.0" y="-10" width="3.5" height="20" opacity="0.311"/>
<rect x="645.5" y="-10" width="14.0" height="20" opacity="0.540"/>
<rect x="659.5" y="-10" width="10.0" height="20" opacity="0.432"/>
<rect x="683.5" y="-10" width="8.0" height="20" opacity="0.540"/>
<rect x="691.5" y="-10" width="141.5" height="20" opacity="0.828"/>
</g>
<use href="#t12" y="-36.70"/>
</g></g>
<line x1="0" y1="-42.80" x2="821.00" y2="-44.70" stroke="#c8c8c8" stroke-width="0.8"/>
<line x1="0" y1="-44.10" x2="821.00" y2="-44.10" stroke="#000" stroke-width="2.1"/>
<line x1="0" y1="-44.10" x2="821.00" y2="-44.10" stroke="#fff" stroke-width="2.1" stroke-dasharray="10 10"/>
<line x1="0" y1="-28.50" x2="821.00" y2="-28.50" stroke="#000" stroke-width="2.1"/>
<line x1="0" y1="-28.50" x2="821.00" y2="-28.50" stroke="#fff" stroke-width="2.1" stroke-dasharray="10 10"/>
<line x1="0" y1="-7.40" x2="821.00" y2="-7.40" stroke="#000" stroke-width="2.1"/>
<line x1="0" y1="-7.40" x2="821.00" y2="-7.40" stroke="#fff" stroke-width="2.1" stroke-dasharray="10 10"/>
<line x1="0" y1="8.20" x2="821.00" y2="8.20" stroke="#000" stroke-width="2.1"/>
<line x1="0" y1="8.20" x2="821.00" y2="8.20" stroke="#fff" stroke-width="2.1" stroke-dasharray="10 10"/>
</g>
<g transform="translate(982.30 487.00) skewY(-0.4783)">
<g clip-path="url(#band3)"><g filter="url(#pl)">
<rect x="-14" y="-54.00" width="849.00" height="92.20" fill="#000"/>
<g id="t13" fill="url(#ga)">
<rect x="-12.0" y="-10" width="41.0" height="20" opacity="0.800"/>
<rect x="29.0" y="-10" width="2.5" height="20" opacity="0.056"/>
<rect x="31.5" y="-10" width="1.5" height="20" opacity="1.000"/>
<rect x="33.0" y="-10" width="1.5" height="20" opacity="0.000"/>
<rect x="34.5" y="-10" width="16.0" height="20" opacity="0.800"/>
<rect x="50.5" y="-10" width="4.0" height="20" opacity="0.395"/>
<rect x="54.5" y="-10" width="9.0" height="20" opacity="0.808"/>
<rect x="63.5" y="-10" width="3.5" height="20" opacity="0.408"/>
<rect x="67.0" y="-10" width="34.5" height="20" opacity="0.800"/>
<rect x="101.5" y="-10" width="4.0" height="20" opacity="0.446"/>
<rect x="105.5" y="-10" width="9.0" height="20" opacity="0.808"/>
<rect x="114.5" y="-10" width="3.5" height="20" opacity="0.408"/>
<rect x="118.0" y="-10" width="17.5" height="20" opacity="0.800"/>
<rect x="135.5" y="-10" width="3.0" height="20" opacity="0.356"/>
<rect x="138.5" y="-10" width="30.0" height="20" opacity="0.800"/>
<rect x="168.5" y="-10" width="4.0" height="20" opacity="0.395"/>
<rect x="172.5" y="-10" width="12.5" height="20" opacity="0.801"/>
<rect x="185.0" y="-10" width="3.0" height="20" opacity="0.356"/>
<rect x="188.0" y="-10" width="22.5" height="20" opacity="0.800"/>
<rect x="210.5" y="-10" width="3.0" height="20" opacity="0.419"/>
<rect x="213.5" y="-10" width="38.0" height="20" opacity="0.800"/>
<rect x="251.5" y="-10" width="4.0" height="20" opacity="0.446"/>
<rect x="255.5" y="-10" width="15.5" height="20" opacity="0.800"/>
<rect x="271.0" y="-10" width="3.0" height="20" opacity="0.356"/>
<rect x="274.0" y="-10" width="29.0" height="20" opacity="0.800"/>
<rect x="303.0" y="-10" width="3.0" height="20" opacity="0.419"/>
<rect x="306.0" y="-10" width="40.0" height="20" opacity="0.800"/>
<rect x="346.0" y="-10" width="3.0" height="20" opacity="0.356"/>
<rect x="349.0" y="-10" width="10.5" height="20" opacity="0.803"/>
<rect x="359.5" y="-10" width="4.5" height="20" opacity="0.195"/>
<rect x="364.0" y="-10" width="80.5" height="20" opacity="0.800"/>
<rect x="444.5" y="-10" width="3.5" height="20" opacity="0.464"/>
<rect x="448.0" y="-10" width="43.0" height="20" opacity="0.800"/>
<rect x="491.0" y="-10" width="3.0" height="20" opacity="0.483"/>
<rect x="494.0" y="-10" width="93.5" height="20" opacity="0.800"/>
<rect x="587.5" y="-10" width="4.5" height="20" opacity="0.334"/>
<rect x="592.0" y="-10" width="13.5" height="20" opacity="0.800"/>
<rect x="605.5" y="-10" width="3.0" height="20" opacity="0.483"/>
<rect x="608.5" y="-10" width="100.5" height="20" opacity="0.800"/>
<rect x="709.0" y="-10" width="3.5" height="20" opacity="0.576"/>
<rect x="712.5" y="-10" width="92.5" height="20" opacity="0.800"/>
<rect x="805.0" y="-10" width="3.0" height="20" opacity="0.483"/>
<rect x="808.0" y="-10" width="25.0" height="20" opacity="0.800"/>
</g>
<use href="#t13" y="-36.00"/>
</g></g>
<line x1="0" y1="-42.50" x2="821.00" y2="-44.40" stroke="#c8c8c8" stroke-width="0.8"/>
<line x1="0" y1="-43.80" x2="821.00" y2="-43.80" stroke="#000" stroke-width="2.1"/>
<line x1="0" y1="-43.80" x2="821.00" y2="-43.80" stroke="#fff" stroke-width="2.1" stroke-dasharray="10 10"/>
<line x1="0" y1="-28.20" x2="821.00" y2="-28.20" stroke="#000" stroke-width="2.1"/>
<line x1="0" y1="-28.20" x2="821.00" y2="-28.20" stroke="#fff" stroke-width="2.1" stroke-dasharray="10 10"/>
<line x1="0" y1="-7.80" x2="821.00" y2="-7.80" stroke="#000" stroke-width="2.1"/>
<line x1="0" y1="-7.80" x2="821.00" y2="-7.80" stroke="#fff" stroke-width="2.1" stroke-dasharray="10 10"/>
<line x1="0" y1="7.80" x2="821.00" y2="7.80" stroke="#000" stroke-width="2.1"/>
<line x1="0" y1="7.80" x2="821.00" y2="7.80" stroke="#fff" stroke-width="2.1" stroke-dasharray="10 10"/>
</g>
<g transform="translate(982.30 597.60) skewY(-0.4748)">
<g clip-path="url(#band4)"><g filter="url(#pl)">
<rect x="-14" y="-54.00" width="849.00" height="92.20" fill="#000"/>
<g id="t14" fill="url(#ga)">
<rect x="-12.0" y="-10" width="402.5" height="20" opacity="0.800"/>
<rect x="390.5" y="-10" width="3.0" height="20" opacity="0.483"/>
<rect x="393.5" y="-10" width="162.5" height="20" opacity="0.800"/>
<rect x="556.0" y="-10" width="3.5" height="20" opacity="0.576"/>
<rect x="559.5" y="-10" width="149.5" height="20" opacity="0.800"/>
<rect x="709.0" y="-10" width="3.5" height="20" opacity="0.520"/>
<rect x="712.5" y="-10" width="120.5" height="20" opacity="0.800"/>
</g>
<use href="#t14" y="-37.20"/>
</g></g>
<line x1="0" y1="-43.70" x2="821.00" y2="-45.60" stroke="#c8c8c8" stroke-width="0.8"/>
<line x1="0" y1="-45.00" x2="821.00" y2="-45.00" stroke="#000" stroke-width="2.1"/>
<line x1="0" y1="-45.00" x2="821.00" y2="-45.00" stroke="#fff" stroke-width="2.1" stroke-dasharray="10 10"/>
<line x1="0" y1="-29.40" x2="821.00" y2="-29.40" stroke="#000" stroke-width="2.1"/>
<line x1="0" y1="-29.40" x2="821.00" y2="-29.40" stroke="#fff" stroke-width="2.1" stroke-dasharray="10 10"/>
<line x1="0" y1="-7.80" x2="821.00" y2="-7.80" stroke="#000" stroke-width="2.1"/>
<line x1="0" y1="-7.80" x2="821.00" y2="-7.80" stroke="#fff" stroke-width="2.1" stroke-dasharray="10 10"/>
<line x1="0" y1="7.80" x2="821.00" y2="7.80" stroke="#000" stroke-width="2.1"/>
<line x1="0" y1="7.80" x2="821.00" y2="7.80" stroke="#fff" stroke-width="2.1" stroke-dasharray="10 10"/>
</g>
<g transform="translate(982.30 722.40) skewY(-0.3770)">
<g clip-path="url(#band5)"><g filter="url(#pl)">
<rect x="-14" y="-54.00" width="849.00" height="92.20" fill="#000"/>
<g id="t15" fill="url(#ga)">
<rect x="-12.0" y="-10" width="41.5" height="20" opacity="0.667"/>
<rect x="29.5" y="-10" width="5.0" height="20" opacity="0.536"/>
<rect x="34.5" y="-10" width="39.5" height="20" opacity="0.667"/>
<rect x="74.0" y="-10" width="5.0" height="20" opacity="0.536"/>
<rect x="79.0" y="-10" width="38.0" height="20" opacity="0.667"/>
<rect x="117.0" y="-10" width="5.0" height="20" opacity="0.536"/>
<rect x="122.0" y="-10" width="38.0" height="20" opacity="0.667"/>
<rect x="160.0" y="-10" width="5.0" height="20" opacity="0.536"/>
<rect x="165.0" y="-10" width="36.5" height="20" opacity="0.667"/>
<rect x="201.5" y="-10" width="5.0" height="20" opacity="0.546"/>
<rect x="206.5" y="-10" width="36.5" height="20" opacity="0.633"/>
<rect x="243.0" y="-10" width="5.0" height="20" opacity="0.503"/>
<rect x="248.0" y="-10" width="45.0" height="20" opacity="0.633"/>
<rect x="293.0" y="-10" width="41.5" height="20" opacity="0.733"/>
<rect x="334.5" y="-10" width="39.5" height="20" opacity="0.667"/>
<rect x="374.0" y="-10" width="4.5" height="20" opacity="0.620"/>
<rect x="378.5" y="-10" width="4.0" height="20" opacity="0.684"/>
<rect x="382.5" y="-10" width="36.0" height="20" opacity="0.633"/>
<rect x="418.5" y="-10" width="4.5" height="20" opacity="0.587"/>
<rect x="423.0" y="-10" width="40.0" height="20" opacity="0.633"/>
<rect x="463.0" y="-10" width="4.5" height="20" opacity="0.587"/>
<rect x="467.5" y="-10" width="40.0" height="20" opacity="0.633"/>
<rect x="507.5" y="-10" width="4.5" height="20" opacity="0.540"/>
<rect x="512.0" y="-10" width="104.0" height="20" opacity="0.633"/>
<rect x="616.0" y="-10" width="217.0" height="20" opacity="0.600"/>
<ellipse cx="270.9" cy="0.5" rx="23.0" ry="6.5" fill="url(#rg)"/>
</g>
<use href="#t15" y="-37.45"/>
</g></g>
<line x1="0" y1="-43.95" x2="821.00" y2="-45.85" stroke="#c8c8c8" stroke-width="0.8"/>
<line x1="0" y1="-45.25" x2="821.00" y2="-45.25" stroke="#000" stroke-width="2.1"/>
<line x1="0" y1="-45.25" x2="821.00" y2="-45.25" stroke="#fff" stroke-width="2.1" stroke-dasharray="10 10"/>
<line x1="0" y1="-29.65" x2="821.00" y2="-29.65" stroke="#000" stroke-width="2.1"/>
<line x1="0" y1="-29.65" x2="821.00" y2="-29.65" stroke="#fff" stroke-width="2.1" stroke-dasharray="10 10"/>
<line x1="0" y1="-7.80" x2="821.00" y2="-7.80" stroke="#000" stroke-width="2.1"/>
<line x1="0" y1="-7.80" x2="821.00" y2="-7.80" stroke="#fff" stroke-width="2.1" stroke-dasharray="10 10"/>
<line x1="0" y1="7.80" x2="821.00" y2="7.80" stroke="#000" stroke-width="2.1"/>
<line x1="0" y1="7.80" x2="821.00" y2="7.80" stroke="#fff" stroke-width="2.1" stroke-dasharray="10 10"/>
</g>
</g>
<rect x="982.30" y="100.20" width="820.60" height="712.70" fill="none" stroke="#000" stroke-width="1.67"/>
<path d="M982.30 812.90v7.0M982.30 812.90h-7.0M1082.54 812.90v7.0M982.30 725.74h-7.0M1182.77 812.90v7.0M982.30 638.57h-7.0M1283.01 812.90v7.0M982.30 551.41h-7.0M1383.25 812.90v7.0M982.30 464.25h-7.0M1483.49 812.90v7.0M982.30 377.09h-7.0M1583.72 812.90v7.0M982.30 289.92h-7.0M1683.96 812.90v7.0M982.30 202.76h-7.0M1784.20 812.90v7.0M982.30 115.60h-7.0" stroke="#000" stroke-width="1.67" fill="none"/>
<g font-family='"DejaVu Sans", "Liberation Sans", sans-serif' font-size="20.83" fill="#000" text-anchor="middle">
<text x="982.20" y="843.4">0</text>
<text x="1082.44" y="843.4">250</text>
<text x="1182.67" y="843.4">500</text>
<text x="1282.91" y="843.4">750</text>
<text x="1383.15" y="843.4">1000</text>
<text x="1483.39" y="843.4">1250</text>
<text x="1583.62" y="843.4">1500</text>
<text x="1683.86" y="843.4">1750</text>
<text x="1784.10" y="843.4">2000</text>
<text x="1394.10" y="872.0">pixel</text>
</g>
<text x="1392.30" y="86.9" font-family='"DejaVu Sans", "Liberation Sans", sans-serif' font-size="25" fill="#000" text-anchor="middle">CHIP2</text>
<g clip-path="url(#ax2)">
<g transform="translate(1845.20 218.10) skewY(-0.5729)">
<g clip-path="url(#band0)"><g filter="url(#pl)">
<rect x="-14" y="-54.00" width="849.00" height="92.20" fill="#000"/>
<g id="t20" fill="url(#gg)">
<rect x="-12.0" y="-10" width="66.0" height="20" opacity="0.612"/>
<rect x="54.0" y="-10" width="3.5" height="20" opacity="0.491"/>
<rect x="57.5" y="-10" width="110.0" height="20" opacity="0.612"/>
<rect x="167.5" y="-10" width="4.0" height="20" opacity="0.432"/>
<rect x="171.5" y="-10" width="8.0" height="20" opacity="0.127"/>
<rect x="179.5" y="-10" width="24.5" height="20" opacity="0.576"/>
<rect x="204.0" y="-10" width="5.0" height="20" opacity="0.482"/>
<rect x="209.0" y="-10" width="41.5" height="20" opacity="0.612"/>
<rect x="250.5" y="-10" width="5.0" height="20" opacity="0.360"/>
<rect x="263.0" y="-10" width="3.5" height="20" opacity="0.302"/>
<rect x="277.0" y="-10" width="12.0" height="20" opacity="0.434"/>
<rect x="296.5" y="-10" width="6.5" height="20" opacity="0.410"/>
<rect x="315.0" y="-10" width="5.5" height="20" opacity="0.356"/>
<rect x="328.5" y="-10" width="40.0" height="20" opacity="0.504"/>
<rect x="368.5" y="-10" width="3.0" height="20" opacity="0.288"/>
<rect x="375.5" y="-10" width="7.5" height="20" opacity="0.428"/>
<rect x="391.5" y="-10" width="15.5" height="20" opacity="0.504"/>
<rect x="407.0" y="-10" width="4.0" height="20" opacity="0.286"/>
<rect x="411.0" y="-10" width="30.0" height="20" opacity="0.504"/>
<rect x="441.0" y="-10" width="4.0" height="20" opacity="0.288"/>
<rect x="457.0" y="-10" width="6.5" height="20" opacity="0.396"/>
<rect x="463.5" y="-10" width="91.0" height="20" opacity="0.540"/>
<rect x="554.5" y="-10" width="4.5" height="20" opacity="0.339"/>
<rect x="559.0" y="-10" width="65.5" height="20" opacity="0.576"/>
<rect x="624.5" y="-10" width="3.5" height="20" opacity="0.360"/>
<rect x="628.0" y="-10" width="4.0" height="20" opacity="0.142"/>
<rect x="632.0" y="-10" width="5.5" height="20" opacity="0.483"/>
<rect x="637.5" y="-10" width="6.0" height="20" opacity="0.134"/>
<rect x="643.5" y="-10" width="32.0" height="20" opacity="0.504"/>
<rect x="675.5" y="-10" width="3.5" height="20" opacity="0.383"/>
<rect x="679.0" y="-10" width="9.5" height="20" opacity="0.506"/>
<rect x="688.5" y="-10" width="8.5" height="20" opacity="0.090"/>
<rect x="697.0" y="-10" width="92.0" height="20" opacity="0.540"/>
<rect x="789.0" y="-10" width="3.0" height="20" opacity="0.435"/>
<rect x="792.0" y="-10" width="41.0" height="20" opacity="0.504"/>
</g>
<use href="#t20" y="-36.50"/>
</g></g>
<line x1="0" y1="-43.00" x2="821.00" y2="-44.90" stroke="#c8c8c8" stroke-width="0.8"/>
<line x1="0" y1="-44.30" x2="821.00" y2="-44.30" stroke="#000" stroke-width="2.1"/>
<line x1="0" y1="-44.30" x2="821.00" y2="-44.30" stroke="#fff" stroke-width="2.1" stroke-dasharray="10 10"/>
<line x1="0" y1="-28.70" x2="821.00" y2="-28.70" stroke="#000" stroke-width="2.1"/>
<line x1="0" y1="-28.70" x2="821.00" y2="-28.70" stroke="#fff" stroke-width="2.1" stroke-dasharray="10 10"/>
<line x1="0" y1="-7.80" x2="821.00" y2="-7.80" stroke="#000" stroke-width="2.1"/>
<line x1="0" y1="-7.80" x2="821.00" y2="-7.80" stroke="#fff" stroke-width="2.1" stroke-dasharray="10 10"/>
<line x1="0" y1="7.80" x2="821.00" y2="7.80" stroke="#000" stroke-width="2.1"/>
<line x1="0" y1="7.80" x2="821.00" y2="7.80" stroke="#fff" stroke-width="2.1" stroke-dasharray="10 10"/>
</g>
<g transform="translate(1845.20 295.30) skewY(-0.5625)">
<g clip-path="url(#band1)"><g filter="url(#pl)">
<rect x="-14" y="-54.00" width="849.00" height="92.20" fill="#000"/>
<g id="t21" fill="url(#gg)">
<rect x="-12.0" y="-10" width="23.0" height="20" opacity="0.756"/>
<rect x="11.0" y="-10" width="5.0" height="20" opacity="0.156"/>
<rect x="16.0" y="-10" width="15.0" height="20" opacity="0.720"/>
<rect x="31.0" y="-10" width="3.5" height="20" opacity="0.000"/>
<rect x="34.5" y="-10" width="4.0" height="20" opacity="0.762"/>
<rect x="38.5" y="-10" width="5.5" height="20" opacity="0.000"/>
<rect x="44.0" y="-10" width="216.0" height="20" opacity="0.800"/>
<rect x="260.0" y="-10" width="2.5" height="20" opacity="0.183"/>
<rect x="262.5" y="-10" width="3.0" height="20" opacity="0.634"/>
<rect x="265.5" y="-10" width="3.5" height="20" opacity="0.262"/>
<rect x="269.0" y="-10" width="32.5" height="20" opacity="0.756"/>
<rect x="301.5" y="-10" width="3.0" height="20" opacity="0.432"/>
<rect x="304.5" y="-10" width="6.5" height="20" opacity="0.104"/>
<rect x="311.0" y="-10" width="78.5" height="20" opacity="0.792"/>
<rect x="389.5" y="-10" width="6.0" height="20" opacity="0.210"/>
<rect x="395.5" y="-10" width="13.0" height="20" opacity="0.721"/>
<rect x="408.5" y="-10" width="2.5" height="20" opacity="0.432"/>
<rect x="411.0" y="-10" width="4.5" height="20" opacity="0.288"/>
<rect x="415.5" y="-10" width="6.5" height="20" opacity="0.042"/>
<rect x="422.0" y="-10" width="6.5" height="20" opacity="0.504"/>
<rect x="428.5" y="-10" width="96.5" height="20" opacity="0.792"/>
<rect x="525.0" y="-10" width="3.0" height="20" opacity="0.381"/>
<rect x="528.0" y="-10" width="144.5" height="20" opacity="0.828"/>
<rect x="672.5" y="-10" width="9.5" height="20" opacity="0.576"/>
<rect x="682.0" y="-10" width="14.5" height="20" opacity="0.072"/>
<rect x="696.5" y="-10" width="6.5" height="20" opacity="0.504"/>
<rect x="703.0" y="-10" width="79.5" height="20" opacity="0.720"/>
<rect x="782.5" y="-10" width="3.0" height="20" opacity="0.360"/>
<rect x="785.5" y="-10" width="7.5" height="20" opacity="0.049"/>
<rect x="793.0" y="-10" width="8.0" height="20" opacity="0.377"/>
<rect x="801.0" y="-10" width="32.0" height="20" opacity="0.072"/>
</g>
<use href="#t21" y="-36.40"/>
</g></g>
<line x1="0" y1="-42.60" x2="821.00" y2="-44.50" stroke="#c8c8c8" stroke-width="0.8"/>
<line x1="0" y1="-43.90" x2="821.00" y2="-43.90" stroke="#000" stroke-width="2.1"/>
<line x1="0" y1="-43.90" x2="821.00" y2="-43.90" stroke="#fff" stroke-width="2.1" stroke-dasharray="10 10"/>
<line x1="0" y1="-28.30" x2="821.00" y2="-28.30" stroke="#000" stroke-width="2.1"/>
<line x1="0" y1="-28.30" x2="821.00" y2="-28.30" stroke="#fff" stroke-width="2.1" stroke-dasharray="10 10"/>
<line x1="0" y1="-7.50" x2="821.00" y2="-7.50" stroke="#000" stroke-width="2.1"/>
<line x1="0" y1="-7.50" x2="821.00" y2="-7.50" stroke="#fff" stroke-width="2.1" stroke-dasharray="10 10"/>
<line x1="0" y1="8.10" x2="821.00" y2="8.10" stroke="#000" stroke-width="2.1"/>
<line x1="0" y1="8.10" x2="821.00" y2="8.10" stroke="#fff" stroke-width="2.1" stroke-dasharray="10 10"/>
</g>
<g transform="translate(1845.20 381.50) skewY(-0.4961)">
<g clip-path="url(#band2)"><g filter="url(#pl)">
<rect x="-14" y="-54.00" width="849.00" height="92.20" fill="#000"/>
<g id="t22" fill="url(#gg)">
<rect x="-12.0" y="-10" width="27.0" height="20" opacity="0.828"/>
<rect x="15.0" y="-10" width="4.0" height="20" opacity="0.392"/>
<rect x="19.0" y="-10" width="5.5" height="20" opacity="0.771"/>
<rect x="24.5" y="-10" width="4.0" height="20" opacity="0.283"/>
<rect x="28.5" y="-10" width="40.0" height="20" opacity="0.800"/>
<rect x="68.5" y="-10" width="4.0" height="20" opacity="0.483"/>
<rect x="72.5" y="-10" width="9.0" height="20" opacity="0.762"/>
<rect x="81.5" y="-10" width="6.0" height="20" opacity="0.203"/>
<rect x="87.5" y="-10" width="28.0" height="20" opacity="0.828"/>
<rect x="115.5" y="-10" width="2.5" height="20" opacity="0.360"/>
<rect x="118.0" y="-10" width="4.0" height="20" opacity="0.070"/>
<rect x="122.0" y="-10" width="3.0" height="20" opacity="0.418"/>
<rect x="125.0" y="-10" width="4.0" height="20" opacity="0.070"/>
<rect x="129.0" y="-10" width="5.0" height="20" opacity="0.504"/>
<rect x="134.0" y="-10" width="32.0" height="20" opacity="0.792"/>
<rect x="166.0" y="-10" width="9.5" height="20" opacity="0.432"/>
<rect x="206.0" y="-10" width="4.5" height="20" opacity="0.360"/>
<rect x="210.5" y="-10" width="13.0" height="20" opacity="0.540"/>
<rect x="223.5" y="-10" width="4.5" height="20" opacity="0.360"/>
<rect x="237.5" y="-10" width="6.5" height="20" opacity="0.504"/>
<rect x="244.0" y="-10" width="56.0" height="20" opacity="0.828"/>
<rect x="300.0" y="-10" width="2.5" height="20" opacity="0.426"/>
<rect x="302.5" y="-10" width="53.5" height="20" opacity="0.828"/>
<rect x="356.0" y="-10" width="4.5" height="20" opacity="0.504"/>
<rect x="360.5" y="-10" width="7.0" height="20" opacity="0.106"/>
<rect x="367.5" y="-10" width="17.0" height="20" opacity="0.720"/>
<rect x="384.5" y="-10" width="5.5" height="20" opacity="0.231"/>
<rect x="390.0" y="-10" width="21.0" height="20" opacity="0.756"/>
<rect x="411.0" y="-10" width="27.0" height="20" opacity="0.792"/>
<rect x="438.0" y="-10" width="6.5" height="20" opacity="0.432"/>
<rect x="458.0" y="-10" width="7.0" height="20" opacity="0.504"/>
<rect x="465.0" y="-10" width="76.5" height="20" opacity="0.792"/>
<rect x="541.5" y="-10" width="3.5" height="20" opacity="0.236"/>
<rect x="545.0" y="-10" width="7.0" height="20" opacity="0.743"/>
<rect x="552.0" y="-10" width="3.0" height="20" opacity="0.309"/>
<rect x="555.0" y="-10" width="69.5" height="20" opacity="0.792"/>
<rect x="624.5" y="-10" width="5.0" height="20" opacity="0.355"/>
<rect x="629.5" y="-10" width="17.5" height="20" opacity="0.684"/>
<rect x="647.0" y="-10" width="6.5" height="20" opacity="0.360"/>
<rect x="664.5" y="-10" width="3.0" height="20" opacity="0.137"/>
<rect x="687.5" y="-10" width="10.5" height="20" opacity="0.434"/>
<rect x="698.0" y="-10" width="5.0" height="20" opacity="0.244"/>
<rect x="703.0" y="-10" width="49.0" height="20" opacity="0.720"/>
<rect x="752.0" y="-10" width="4.0" height="20" opacity="0.502"/>
<rect x="756.0" y="-10" width="29.5" height="20" opacity="0.720"/>
<rect x="785.5" y="-10" width="4.0" height="20" opacity="0.360"/>
<rect x="800.0" y="-10" width="6.5" height="20" opacity="0.432"/>
<rect x="806.5" y="-10" width="26.5" height="20" opacity="0.648"/>
</g>
<use href="#t22" y="-36.70"/>
</g></g>
<line x1="0" y1="-42.80" x2="821.00" y2="-44.70" stroke="#c8c8c8" stroke-width="0.8"/>
<line x1="0" y1="-44.10" x2="821.00" y2="-44.10" stroke="#000" stroke-width="2.1"/>
<line x1="0" y1="-44.10" x2="821.00" y2="-44.10" stroke="#fff" stroke-width="2.1" stroke-dasharray="10 10"/>
<line x1="0" y1="-28.50" x2="821.00" y2="-28.50" stroke="#000" stroke-width="2.1"/>
<line x1="0" y1="-28.50" x2="821.00" y2="-28.50" stroke="#fff" stroke-width="2.1" stroke-dasharray="10 10"/>
<line x1="0" y1="-7.40" x2="821.00" y2="-7.40" stroke="#000" stroke-width="2.1"/>
<line x1="0" y1="-7.40" x2="821.00" y2="-7.40" stroke="#fff" stroke-width="2.1" stroke-dasharray="10 10"/>
<line x1="0" y1="8.20" x2="821.00" y2="8.20" stroke="#000" stroke-width="2.1"/>
<line x1="0" y1="8.20" x2="821.00" y2="8.20" stroke="#fff" stroke-width="2.1" stroke-dasharray="10 10"/>
</g>
<g transform="translate(1845.20 479.05) skewY(-0.4751)">
<g clip-path="url(#band3)"><g filter="url(#pl)">
<rect x="-14" y="-54.00" width="849.00" height="92.20" fill="#000"/>
<g id="t23" fill="url(#ga)">
<rect x="-12.0" y="-10" width="105.5" height="20" opacity="0.800"/>
<rect x="93.5" y="-10" width="19.5" height="20" opacity="0.767"/>
<rect x="113.0" y="-10" width="3.5" height="20" opacity="0.375"/>
<rect x="116.5" y="-10" width="41.5" height="20" opacity="0.767"/>
<rect x="158.0" y="-10" width="3.0" height="20" opacity="0.386"/>
<rect x="161.0" y="-10" width="19.0" height="20" opacity="0.767"/>
<rect x="180.0" y="-10" width="3.5" height="20" opacity="0.431"/>
<rect x="183.5" y="-10" width="27.5" height="20" opacity="0.767"/>
<rect x="211.0" y="-10" width="5.0" height="20" opacity="0.245"/>
<rect x="216.0" y="-10" width="64.0" height="20" opacity="0.767"/>
<rect x="280.0" y="-10" width="18.0" height="20" opacity="0.733"/>
<rect x="298.0" y="-10" width="3.0" height="20" opacity="0.479"/>
<rect x="301.0" y="-10" width="77.5" height="20" opacity="0.733"/>
<rect x="378.5" y="-10" width="4.5" height="20" opacity="0.314"/>
<rect x="383.0" y="-10" width="14.0" height="20" opacity="0.734"/>
<rect x="397.0" y="-10" width="3.0" height="20" opacity="0.352"/>
<rect x="400.0" y="-10" width="9.5" height="20" opacity="0.737"/>
<rect x="409.5" y="-10" width="3.0" height="20" opacity="0.416"/>
<rect x="412.5" y="-10" width="41.5" height="20" opacity="0.733"/>
<rect x="454.0" y="-10" width="3.5" height="20" opacity="0.453"/>
<rect x="457.5" y="-10" width="9.0" height="20" opacity="0.734"/>
<rect x="466.5" y="-10" width="187.0" height="20" opacity="0.700"/>
<rect x="653.5" y="-10" width="46.0" height="20" opacity="0.667"/>
<rect x="699.5" y="-10" width="3.5" height="20" opacity="0.443"/>
<rect x="703.0" y="-10" width="56.0" height="20" opacity="0.667"/>
<rect x="759.0" y="-10" width="5.5" height="20" opacity="0.296"/>
<rect x="764.5" y="-10" width="24.5" height="20" opacity="0.667"/>
<rect x="789.0" y="-10" width="3.0" height="20" opacity="0.413"/>
<rect x="792.0" y="-10" width="41.0" height="20" opacity="0.667"/>
</g>
<use href="#t23" y="-36.00"/>
</g></g>
<line x1="0" y1="-42.50" x2="821.00" y2="-44.40" stroke="#c8c8c8" stroke-width="0.8"/>
<line x1="0" y1="-43.80" x2="821.00" y2="-43.80" stroke="#000" stroke-width="2.1"/>
<line x1="0" y1="-43.80" x2="821.00" y2="-43.80" stroke="#fff" stroke-width="2.1" stroke-dasharray="10 10"/>
<line x1="0" y1="-28.20" x2="821.00" y2="-28.20" stroke="#000" stroke-width="2.1"/>
<line x1="0" y1="-28.20" x2="821.00" y2="-28.20" stroke="#fff" stroke-width="2.1" stroke-dasharray="10 10"/>
<line x1="0" y1="-7.80" x2="821.00" y2="-7.80" stroke="#000" stroke-width="2.1"/>
<line x1="0" y1="-7.80" x2="821.00" y2="-7.80" stroke="#fff" stroke-width="2.1" stroke-dasharray="10 10"/>
<line x1="0" y1="7.80" x2="821.00" y2="7.80" stroke="#000" stroke-width="2.1"/>
<line x1="0" y1="7.80" x2="821.00" y2="7.80" stroke="#fff" stroke-width="2.1" stroke-dasharray="10 10"/>
</g>
<g transform="translate(1845.20 590.10) skewY(-0.4402)">
<g clip-path="url(#band4)"><g filter="url(#pl)">
<rect x="-14" y="-54.00" width="849.00" height="92.20" fill="#000"/>
<g id="t24" fill="url(#ga)">
<rect x="-12.0" y="-10" width="66.5" height="20" opacity="0.867"/>
<rect x="54.5" y="-10" width="108.0" height="20" opacity="0.833"/>
<rect x="162.5" y="-10" width="108.0" height="20" opacity="0.800"/>
<rect x="270.5" y="-10" width="108.0" height="20" opacity="0.767"/>
<rect x="378.5" y="-10" width="108.0" height="20" opacity="0.733"/>
<rect x="486.5" y="-10" width="18.5" height="20" opacity="0.700"/>
<rect x="505.0" y="-10" width="3.5" height="20" opacity="0.644"/>
<rect x="508.5" y="-10" width="22.0" height="20" opacity="0.700"/>
<rect x="530.5" y="-10" width="3.5" height="20" opacity="0.644"/>
<rect x="534.0" y="-10" width="60.5" height="20" opacity="0.700"/>
<rect x="594.5" y="-10" width="108.0" height="20" opacity="0.667"/>
<rect x="702.5" y="-10" width="33.5" height="20" opacity="0.633"/>
<rect x="736.0" y="-10" width="3.5" height="20" opacity="0.353"/>
<rect x="739.5" y="-10" width="71.0" height="20" opacity="0.633"/>
<rect x="810.5" y="-10" width="22.5" height="20" opacity="0.600"/>
</g>
<use href="#t24" y="-37.20"/>
</g></g>
<line x1="0" y1="-43.70" x2="821.00" y2="-45.60" stroke="#c8c8c8" stroke-width="0.8"/>
<line x1="0" y1="-45.00" x2="821.00" y2="-45.00" stroke="#000" stroke-width="2.1"/>
<line x1="0" y1="-45.00" x2="821.00" y2="-45.00" stroke="#fff" stroke-width="2.1" stroke-dasharray="10 10"/>
<line x1="0" y1="-29.40" x2="821.00" y2="-29.40" stroke="#000" stroke-width="2.1"/>
<line x1="0" y1="-29.40" x2="821.00" y2="-29.40" stroke="#fff" stroke-width="2.1" stroke-dasharray="10 10"/>
<line x1="0" y1="-7.80" x2="821.00" y2="-7.80" stroke="#000" stroke-width="2.1"/>
<line x1="0" y1="-7.80" x2="821.00" y2="-7.80" stroke="#fff" stroke-width="2.1" stroke-dasharray="10 10"/>
<line x1="0" y1="7.80" x2="821.00" y2="7.80" stroke="#000" stroke-width="2.1"/>
<line x1="0" y1="7.80" x2="821.00" y2="7.80" stroke="#fff" stroke-width="2.1" stroke-dasharray="10 10"/>
</g>
<g transform="translate(1845.20 715.70) skewY(-0.3214)">
<g clip-path="url(#band5)"><g filter="url(#pl)">
<rect x="-14" y="-54.00" width="849.00" height="92.20" fill="#000"/>
<g id="t25" fill="url(#ga)">
<rect x="-12.0" y="-10" width="52.5" height="20" opacity="0.667"/>
<rect x="40.5" y="-10" width="5.0" height="20" opacity="0.536"/>
<rect x="45.5" y="-10" width="43.0" height="20" opacity="0.667"/>
<rect x="88.5" y="-10" width="5.0" height="20" opacity="0.536"/>
<rect x="93.5" y="-10" width="22.0" height="20" opacity="0.667"/>
<rect x="115.5" y="-10" width="20.5" height="20" opacity="0.633"/>
<rect x="136.0" y="-10" width="5.0" height="20" opacity="0.546"/>
<rect x="141.0" y="-10" width="44.5" height="20" opacity="0.633"/>
<rect x="185.5" y="-10" width="5.0" height="20" opacity="0.503"/>
<rect x="190.5" y="-10" width="43.0" height="20" opacity="0.633"/>
<rect x="233.5" y="-10" width="5.0" height="20" opacity="0.503"/>
<rect x="238.5" y="-10" width="5.5" height="20" opacity="0.641"/>
<rect x="244.0" y="-10" width="37.0" height="20" opacity="0.600"/>
<rect x="281.0" y="-10" width="5.0" height="20" opacity="0.513"/>
<rect x="286.0" y="-10" width="43.0" height="20" opacity="0.600"/>
<rect x="329.0" y="-10" width="2.5" height="20" opacity="0.533"/>
<rect x="331.5" y="-10" width="2.5" height="20" opacity="0.459"/>
<rect x="334.0" y="-10" width="38.5" height="20" opacity="0.600"/>
<rect x="372.5" y="-10" width="6.0" height="20" opacity="0.567"/>
<rect x="378.5" y="-10" width="5.0" height="20" opacity="0.480"/>
<rect x="383.5" y="-10" width="44.0" height="20" opacity="0.567"/>
<rect x="427.5" y="-10" width="5.5" height="20" opacity="0.484"/>
<rect x="433.0" y="-10" width="42.5" height="20" opacity="0.567"/>
<rect x="475.5" y="-10" width="3.5" height="20" opacity="0.500"/>
<rect x="479.0" y="-10" width="1.5" height="20" opacity="0.417"/>
<rect x="480.5" y="-10" width="20.0" height="20" opacity="0.567"/>
<rect x="500.5" y="-10" width="24.5" height="20" opacity="0.533"/>
<rect x="525.0" y="-10" width="5.0" height="20" opacity="0.446"/>
<rect x="530.0" y="-10" width="44.5" height="20" opacity="0.533"/>
<rect x="574.5" y="-10" width="5.0" height="20" opacity="0.446"/>
<rect x="579.5" y="-10" width="44.0" height="20" opacity="0.533"/>
<rect x="623.5" y="-10" width="3.0" height="20" opacity="0.467"/>
<rect x="626.5" y="-10" width="2.5" height="20" opacity="0.392"/>
<rect x="629.0" y="-10" width="45.5" height="20" opacity="0.500"/>
<rect x="674.5" y="-10" width="5.5" height="20" opacity="0.418"/>
<rect x="680.0" y="-10" width="45.5" height="20" opacity="0.500"/>
<rect x="725.5" y="-10" width="5.5" height="20" opacity="0.418"/>
<rect x="731.0" y="-10" width="26.0" height="20" opacity="0.500"/>
<rect x="757.0" y="-10" width="19.5" height="20" opacity="0.467"/>
<rect x="776.5" y="-10" width="5.5" height="20" opacity="0.384"/>
<rect x="782.0" y="-10" width="51.0" height="20" opacity="0.467"/>
</g>
<use href="#t25" y="-37.45"/>
</g></g>
<line x1="0" y1="-43.95" x2="821.00" y2="-45.85" stroke="#c8c8c8" stroke-width="0.8"/>
<line x1="0" y1="-45.25" x2="821.00" y2="-45.25" stroke="#000" stroke-width="2.1"/>
<line x1="0" y1="-45.25" x2="821.00" y2="-45.25" stroke="#fff" stroke-width="2.1" stroke-dasharray="10 10"/>
<line x1="0" y1="-29.65" x2="821.00" y2="-29.65" stroke="#000" stroke-width="2.1"/>
<line x1="0" y1="-29.65" x2="821.00" y2="-29.65" stroke="#fff" stroke-width="2.1" stroke-dasharray="10 10"/>
<line x1="0" y1="-7.80" x2="821.00" y2="-7.80" stroke="#000" stroke-width="2.1"/>
<line x1="0" y1="-7.80" x2="821.00" y2="-7.80" stroke="#fff" stroke-width="2.1" stroke-dasharray="10 10"/>
<line x1="0" y1="7.80" x2="821.00" y2="7.80" stroke="#000" stroke-width="2.1"/>
<line x1="0" y1="7.80" x2="821.00" y2="7.80" stroke="#fff" stroke-width="2.1" stroke-dasharray="10 10"/>
</g>
</g>
<rect x="1845.20" y="100.20" width="820.00" height="712.70" fill="none" stroke="#000" stroke-width="1.67"/>
<path d="M1845.20 812.90v7.0M1845.20 812.90h-7.0M1945.44 812.90v7.0M1845.20 725.74h-7.0M2045.67 812.90v7.0M1845.20 638.57h-7.0M2145.91 812.90v7.0M1845.20 551.41h-7.0M2246.15 812.90v7.0M1845.20 464.25h-7.0M2346.39 812.90v7.0M1845.20 377.09h-7.0M2446.62 812.90v7.0M1845.20 289.92h-7.0M2546.86 812.90v7.0M1845.20 202.76h-7.0M2647.10 812.90v7.0M1845.20 115.60h-7.0" stroke="#000" stroke-width="1.67" fill="none"/>
<g font-family='"DejaVu Sans", "Liberation Sans", sans-serif' font-size="20.83" fill="#000" text-anchor="middle">
<text x="1845.10" y="843.4">0</text>
<text x="1945.34" y="843.4">250</text>
<text x="2045.58" y="843.4">500</text>
<text x="2145.81" y="843.4">750</text>
<text x="2246.05" y="843.4">1000</text>
<text x="2346.29" y="843.4">1250</text>
<text x="2446.53" y="843.4">1500</text>
<text x="2546.76" y="843.4">1750</text>
<text x="2647.00" y="843.4">2000</text>
<text x="2256.70" y="872.0">pixel</text>
</g>
<text x="2254.90" y="86.9" font-family='"DejaVu Sans", "Liberation Sans", sans-serif' font-size="25" fill="#000" text-anchor="middle">CHIP3</text>
<g font-family='"DejaVu Sans", "Liberation Sans", sans-serif' font-size="20.83" fill="#000" text-anchor="end">
<text x="104.5" y="820.50">0</text>
<text x="104.5" y="733.34">250</text>
<text x="104.5" y="646.17">500</text>
<text x="104.5" y="559.01">750</text>
<text x="104.5" y="471.85">1000</text>
<text x="104.5" y="384.69">1250</text>
<text x="104.5" y="297.52">1500</text>
<text x="104.5" y="210.36">1750</text>
<text x="104.5" y="123.20">2000</text>
</g>
<text transform="translate(40.5 458.35) rotate(-90)" font-family='"DejaVu Sans", "Liberation Sans", sans-serif' font-size="20.83" fill="#000" text-anchor="middle">pixel</text>
<text x="1350.5" y="34" font-family='"DejaVu Sans", "Liberation Sans", sans-serif' font-size="20.83" fill="#000" text-anchor="middle" letter-spacing="0.04" xml:space="preserve" style="white-space:pre">WRAY_16-137_L3340_2022-05-09_04014  (extract_height=45)</text>
</svg>
</body></html>
